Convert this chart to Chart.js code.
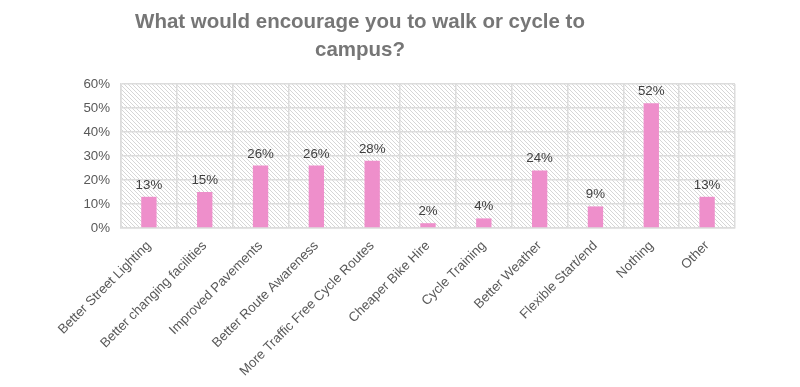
<!DOCTYPE html>
<html>
<head>
<meta charset="utf-8">
<script src="https://cdn.jsdelivr.net/npm/chart.js@4/dist/chart.umd.min.js"></script>
<style>
  html, body { margin: 0; padding: 0; background: #fff; }
  #wrap { width: 800px; height: 387px; position: relative; }
</style>
</head>
<body>
<div id="wrap"><canvas id="c" width="800" height="387"></canvas></div>
<script>
const categories = [
  "Better Street Lighting",
  "Better changing facilities",
  "Improved Pavements",
  "Better Route Awareness",
  "More Traffic Free Cycle Routes",
  "Cheaper Bike Hire",
  "Cycle Training",
  "Better Weather",
  "Flexible Start/end",
  "Nothing",
  "Other"
];
const values = [13, 15, 26, 26, 28, 2, 4, 24, 9, 52, 13];
const yTicks = [0, 10, 20, 30, 40, 50, 60];
const titleLines = ["What would encourage you to walk or cycle to", "campus?"];

function makeHatch() {
  const p = document.createElement('canvas');
  p.width = 4; p.height = 4;
  const g = p.getContext('2d');
  g.fillStyle = '#ffffff';
  g.fillRect(0, 0, 4, 4);
  g.strokeStyle = '#d6d6d6';
  g.lineWidth = 1;
  g.beginPath();
  g.moveTo(-1, -1); g.lineTo(5, 5);
  g.moveTo(-1, 3); g.lineTo(1, 5);
  g.moveTo(3, -1); g.lineTo(5, 1);
  g.stroke();
  return p;
}

const hatchPlugin = {
  id: 'hatch',
  beforeDraw(chart) {
    const a = chart.chartArea;
    const ctx = chart.ctx;
    ctx.save();
    ctx.fillStyle = ctx.createPattern(makeHatch(), 'repeat');
    ctx.fillRect(a.left, a.top, a.right - a.left, a.bottom - a.top);
    ctx.restore();
  }
};

const titlePlugin = {
  id: 'customTitle',
  afterDraw(chart) {
    const ctx = chart.ctx;
    ctx.save();
    ctx.font = 'bold 20.5px "Liberation Sans", Arial, sans-serif';
    ctx.fillStyle = '#767676';
    ctx.textAlign = 'center';
    ctx.textBaseline = 'middle';
    ctx.fillText(titleLines[0], 360, 22);
    ctx.fillText(titleLines[1], 360, 50);
    ctx.restore();
  }
};

const labelPlugin = {
  id: 'valueLabels',
  afterDatasetsDraw(chart) {
    const ctx = chart.ctx;
    const meta = chart.getDatasetMeta(0);
    ctx.save();
    ctx.font = '13.3px "Liberation Sans", Arial, sans-serif';
    ctx.fillStyle = '#404040';
    ctx.textAlign = 'center';
    ctx.textBaseline = 'alphabetic';
    meta.data.forEach((bar, i) => {
      ctx.fillText(values[i] + '%', bar.x, bar.y - 8);
    });
    ctx.restore();
  }
};

new Chart(document.getElementById('c'), {
  type: 'bar',
  data: {
    labels: categories,
    datasets: [{
      data: values,
      backgroundColor: '#ee8fcb',
      borderWidth: 0,
      barPercentage: 0.275,
      categoryPercentage: 1
    }]
  },
  options: {
    responsive: false,
    animation: false,
    devicePixelRatio: 1,
    layout: { padding: { left: 0, right: 65, top: 84, bottom: 0 } },
    plugins: { legend: { display: false }, tooltip: { enabled: false }, title: { display: false } },
    scales: {
      x: {
        grid: { color: '#dcdcdc', lineWidth: 1.5, drawTicks: false, offset: true },
        border: { color: '#dcdcdc', width: 1.5 },
        ticks: {
          color: '#595959',
          font: { family: '"Liberation Sans", Arial, sans-serif', size: 13.3 },
          minRotation: 45, maxRotation: 45, padding: 10, autoSkip: false
        },
        afterFit(s) { s.height = 387 - 228; }
      },
      y: {
        min: 0, max: 60,
        afterBuildTicks(s) { s.ticks = yTicks.map(v => ({ value: v })); },
        grid: { color: '#dcdcdc', lineWidth: 1.5, drawTicks: false },
        border: { color: '#dcdcdc', width: 1.5 },
        ticks: {
          color: '#595959',
          font: { family: '"Liberation Sans", Arial, sans-serif', size: 13.3 },
          padding: 11,
          callback: v => v + '%'
        },
        afterFit(s) { s.width = 121; }
      }
    }
  },
  plugins: [hatchPlugin, titlePlugin, labelPlugin]
});
</script>
</body>
</html>
